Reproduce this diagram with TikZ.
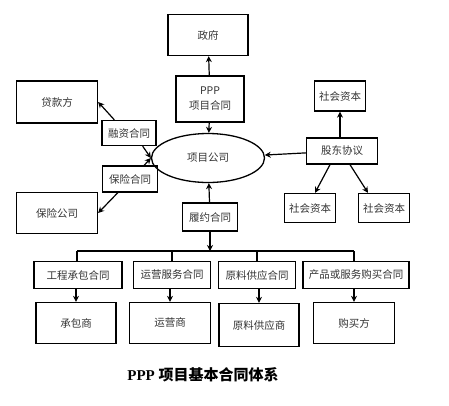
\documentclass[tikz,border=0pt]{standalone}
\usepackage{fontspec}
\setmainfont{Liberation Serif}
\newfontfamily\cjk{Noto Sans CJK SC}
\usetikzlibrary{arrows.meta,shapes.geometric}
\begin{document}
\begin{tikzpicture}[x=1pt,y=-1pt,
    box/.style={rectangle,draw,line width=1.3pt,font=\cjk\fontsize{10.5}{13}\selectfont,text=black!80,inner sep=0pt},
    arr/.style={line width=1.2pt,-{Stealth[length=6pt,width=6pt]}},
    bus/.style={line width=1.2pt}]
    \useasboundingbox (0,0) rectangle (449,405);
    % top part
    \node (gov)  at (208,35)  [box,minimum width=80pt,minimum height=41pt] {政府};
    \node (ppp)  at (210,99)  [box,minimum width=68pt,minimum height=46pt,align=center] {PPP\\[2pt]项目合同};
    \node (lender) at (57,102) [box,minimum width=81pt,minimum height=42pt] {贷款方};
    \node (finc) at (129,133) [box,minimum width=54pt,minimum height=25pt] {融资合同};
    \node (insc) at (130,179) [box,minimum width=55pt,minimum height=26pt] {保险合同};
    \node (insurer) at (57,213) [box,minimum width=81pt,minimum height=41pt] {保险公司};
    \node (company) at (208,158) [box,ellipse,minimum width=113pt,minimum height=49pt] {项目公司};
    \node (cap1) at (340,96)  [box,minimum width=51pt,minimum height=30pt] {社会资本};
    \node (sha)  at (342,151) [box,minimum width=71pt,minimum height=26pt] {股东协议};
    \node (cap2) at (310,208) [box,minimum width=51pt,minimum height=29pt] {社会资本};
    \node (cap3) at (384,208) [box,minimum width=51pt,minimum height=29pt] {社会资本};
    \node (perf) at (210,217) [box,minimum width=55pt,minimum height=28pt] {履约合同};
    % contracts and parties
    \node (c1) at (78,275)  [box,minimum width=88pt,minimum height=27pt]  {工程承包合同};
    \node (c2) at (172,275) [box,minimum width=77pt,minimum height=27pt]  {运营服务合同};
    \node (c3) at (257,275) [box,minimum width=77pt,minimum height=27pt]  {原料供应合同};
    \node (c4) at (356,275) [box,minimum width=106pt,minimum height=27pt] {产品或服务购买合同};
    \node (p1) at (76,323)  [box,minimum width=80pt,minimum height=41pt] {承包商};
    \node (p2) at (170,323) [box,minimum width=81pt,minimum height=41pt] {运营商};
    \node (p3) at (259,325) [box,minimum width=80pt,minimum height=43pt] {原料供应商};
    \node (p4) at (354,323) [box,minimum width=81pt,minimum height=41pt] {购买方};
    \node (title) at (203,375) [font=\fontsize{15}{18}\selectfont\bfseries] {PPP {\cjk 项目基本合同体系}};
    \coordinate (busl) at (77,251);
    \coordinate (busr) at (354,251);
    % arrows
    \draw [arr] (ppp) -- (gov);
    \draw [arr] (ppp) -- (company);
    \draw [arr] ([xshift=13pt]finc.north west) -- (lender.east);
    \draw [arr] ([xshift=-14pt]finc.south east) -- (company.west);
    \draw [arr] ([xshift=-14pt]insc.north east) -- (company.west);
    \draw [arr] ([xshift=16pt]insc.south west) -- (insurer.east);
    \draw [arr] (sha) -- (company);
    \draw [arr] (cap1.south |- sha.north) -- (cap1.south);
    \draw [arr] ([xshift=-12pt]sha.south) -- ([xshift=5pt]cap2.north);
    \draw [arr] ([xshift=8pt]sha.south) -- ([xshift=-16pt]cap3.north);
    \draw [arr] (perf) -- (company);
    \draw [arr] (perf.south) -- (perf.south |- busl);
    \draw [bus] (busl) -- (busr);
    \draw [bus] (busl) -- (busl |- c1.north);
    \draw [bus] (c2.north |- busl) -- (c2.north);
    \draw [bus] (c3.north |- busl) -- (c3.north);
    \draw [bus] (busr) -- (busr |- c4.north);
    \draw [arr] (c1.south -| p1) -- (p1.north);
    \draw [arr] (c2.south -| p2) -- (p2.north);
    \draw [arr] (c3.south -| p3) -- (p3.north);
    \draw [arr] (c4.south -| p4) -- (p4.north);
\end{tikzpicture}
\end{document}
